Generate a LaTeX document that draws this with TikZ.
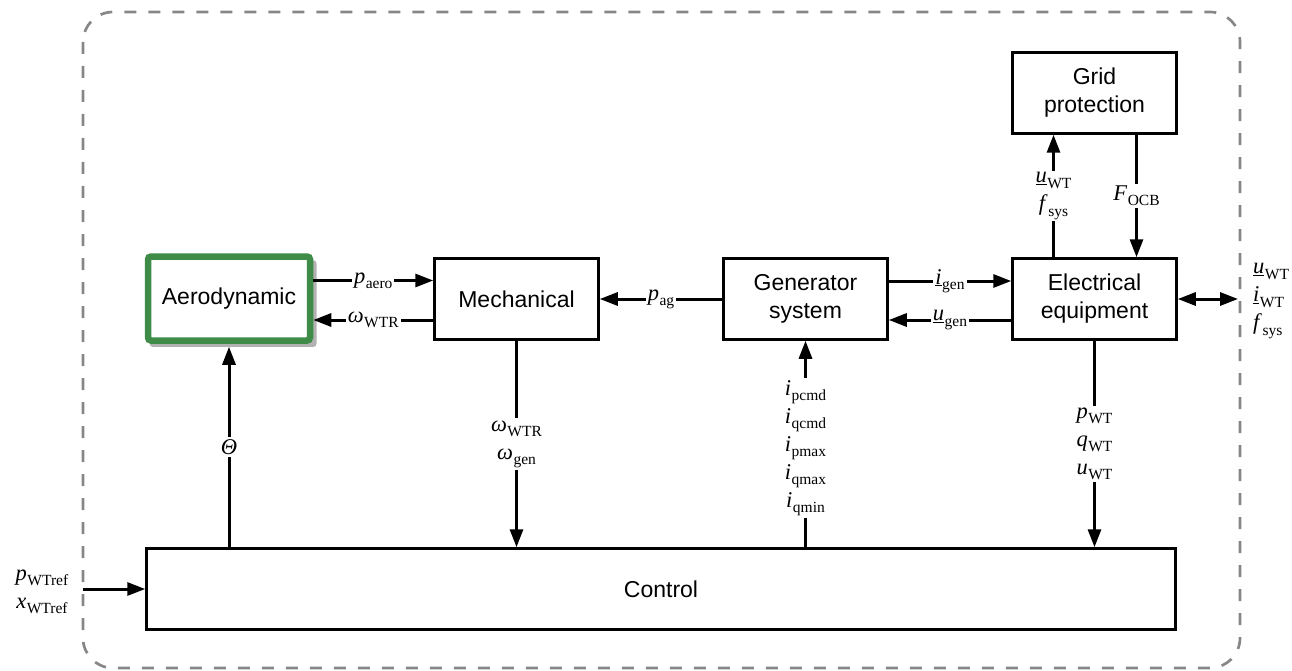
\documentclass[tikz,border=0pt]{standalone}
\usepackage{fontspec}
\setmainfont{Liberation Sans}
\newfontfamily\tms{Liberation Serif}
\usetikzlibrary{arrows.meta,shadows,calc}
\definecolor{aerogreen}{RGB}{62,140,72}
\definecolor{dashgray}{RGB}{135,135,135}
\newcommand\sig[2]{#1\kern0.5pt\raisebox{-0.5ex}{\fontsize{15.5}{15.5}\selectfont #2}}
\begin{document}
\begin{tikzpicture}[x=1pt,y=-1pt,
  box/.style={draw,line width=2.5pt,minimum width=164pt,minimum height=81pt,align=center,font=\fontsize{23}{28}\selectfont,inner sep=0pt},
  tip/.style={Triangle[length=18pt,width=13pt]},
  arr/.style={line width=3pt,-{Triangle[length=18pt,width=13pt]}},
  darr/.style={line width=3pt,{Triangle[length=18pt,width=13pt]}-{Triangle[length=18pt,width=13pt]}},
  lab/.style={fill=white,inner sep=2pt,font=\tms\fontsize{22.5}{28}\selectfont,align=center}]
\useasboundingbox (0,0) rectangle (1292,671);
\draw[dashgray, line width=2.7pt, dash pattern=on 12pt off 12pt, rounded corners=30pt] (83,12) rectangle (1240,668);
% boxes
\node[box,draw=aerogreen,line width=6.5pt,rounded corners=3pt,minimum width=162pt,minimum height=84pt,
  fill=white,drop shadow={shadow xshift=4pt,shadow yshift=-5pt,shadow scale=1.03,opacity=0.3,fill=black}] (aero) at (229,298.5) {Aerodynamic};
\node[box] (mech) at (516.5,299) {Mechanical};
\node[box] (gen) at (805.5,299) {Generator\\system};
\node[box] (elec) at (1094.5,299) {Electrical\\equipment};
\node[box] (grid) at (1094.5,93) {Grid\\protection};
\node[box,minimum width=1029pt] (ctrl) at (661,589) {Control};
% horizontal connectors
\draw[arr] ([yshift=18pt]aero.east) -- ([yshift=18pt]aero.east -| mech.west)
  node[lab,midway]{\sig{\textit{p}}{aero}};
\draw[arr] ([yshift=-21pt]mech.west) -- ([yshift=-21pt]mech.west -| aero.east)
  node[lab,midway]{\sig{\textit{ω}}{WTR}};
\draw[arr] (gen.west) -- (mech.east) node[lab,midway]{\sig{\textit{p}}{ag}};
\draw[arr] ([yshift=18pt]gen.east) -- ([yshift=18pt]gen.east -| elec.west)
  node[lab,midway]{\sig{\underline{\textit{i}}}{gen}};
\draw[arr] ([yshift=-21pt]elec.west) -- ([yshift=-21pt]elec.west -| gen.east)
  node[lab,midway]{\sig{\underline{\textit{u}}}{gen}};
\coordinate (rb) at (1238,299);
\draw[darr] (elec.east) -- (rb);
\node[lab,fill=none,align=left,anchor=west] (outr) at (1251,301)
  {\sig{\underline{\textit{u}}}{WT}\\\sig{\underline{\textit{i}}}{WT}\\\sig{\textit{f}}{sys}};
% grid protection connectors
\draw[arr] ([xshift=-41pt]elec.north) -- ([xshift=-41pt]elec.north |- grid.south)
  node[lab,midway]{\sig{\underline{\textit{u}}}{WT}\\\sig{\textit{f}}{sys}};
\draw[arr] ([xshift=42pt]grid.south) -- ([xshift=42pt]grid.south |- elec.north)
  node[lab,midway]{\sig{\textit{F}}{OCB}};
% vertical connectors to/from control
\draw[arr] (aero.south |- ctrl.north) -- ([yshift=-3pt]aero.south) node[lab,midway]{\textit{Θ}};
\draw[arr] (mech.south) -- (mech.south |- ctrl.north)
  node[lab,midway]{\sig{\textit{ω}}{WTR}\\\sig{\textit{ω}}{gen}};
\draw[arr] (gen.south |- ctrl.north) -- (gen.south)
  node[lab,midway,yshift=-4pt]{\sig{\textit{i}}{pcmd}\\\sig{\textit{i}}{qcmd}\\\sig{\textit{i}}{pmax}\\\sig{\textit{i}}{qmax}\\\sig{\textit{i}}{qmin}};
\draw[arr] (elec.south) -- (elec.south |- ctrl.north)
  node[lab,midway]{\sig{\textit{p}}{WT}\\\sig{\textit{q}}{WT}\\\sig{\textit{u}}{WT}};
% left input
\coordinate (lb) at (83,589);
\draw[arr] (lb) -- (ctrl.west);
\node[lab,fill=none] (inl) at (42,592) {\sig{\textit{p}}{WTref}\\\sig{\textit{x}}{WTref}};
\end{tikzpicture}
\end{document}
